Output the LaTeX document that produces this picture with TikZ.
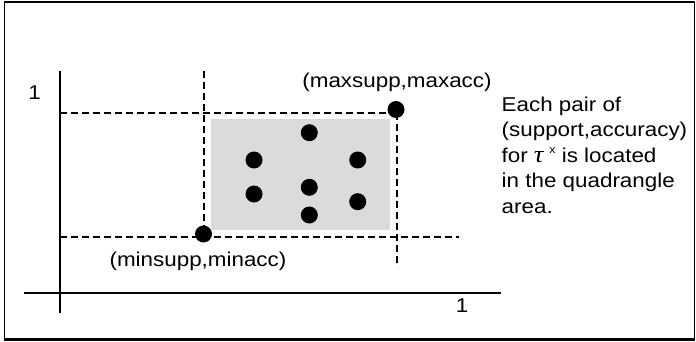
\documentclass[tikz,border=0pt]{standalone}
\usepackage{fontspec}
\setmainfont{Liberation Sans}[FakeStretch=1.12]
\newfontfamily\greekfont{Liberation Serif}[FakeStretch=1.12]
\begin{document}
\begin{tikzpicture}[x=1pt,y=-1pt,
  outline/.style={draw=black,line width=1.6pt},
  quad/.style={fill=black!14},
  axisline/.style={draw=black,line width=2.6pt},
  guide/.style={draw=black,line width=1.2pt,dash pattern=on 7pt off 4pt},
  dot/.style={circle,fill=black,inner sep=0pt,minimum size=17pt},
  lbl/.style={font=\fontsize{20}{25.6}\selectfont,inner sep=0pt,text=black}]
\useasboundingbox (0,0) rectangle (696,342);
\draw[outline] (4.5,2) rectangle (694.5,340);
\draw[draw=black,line width=2.4pt] (4.5,2) -- (694.5,2);
\draw[draw=black,line width=2.4pt] (4.5,339.5) -- (694.5,339.5);
\fill[quad] (211,119) rectangle (390,229.5);
% coordinates
\coordinate (ytop) at (60,71);
\coordinate (ybot) at (60,313);
\coordinate (xl) at (24,293);
\coordinate (xr) at (501,293);
\coordinate (hl1) at (60,113);
\coordinate (hr1) at (397,113);
\coordinate (hl2) at (60,237);
\coordinate (hr2) at (459,237);
\coordinate (vt1) at (204,71);
\coordinate (vb1) at (204,237);
\coordinate (vb2) at (397,267);
% guides
\draw[guide] (hl1) -- (hr1);
\draw[guide] (hl2) -- (hr2);
\draw[guide] (vt1) -- (vb1);
\draw[guide] (hr1) -- (vb2);
% axes
\draw[axisline] (ytop) -- (ybot);
\draw[axisline] (xl) -- (xr);
% dots
\node[dot] (pmax) at (396,109.5) {};
\node[dot] (pmin) at (203.5,234) {};
\node[dot] (p1) at (309.3,132.7) {};
\node[dot] (p2) at (254,160) {};
\node[dot] (p3) at (357.7,160) {};
\node[dot] (p4) at (254,194) {};
\node[dot] (p5) at (309.3,187.3) {};
\node[dot] (p6) at (357.7,201.7) {};
\node[dot] (p7) at (309.3,215) {};
% labels
\node[lbl,anchor=base] (lmax) at (397,88) {(maxsupp,maxacc)};
\node[lbl,anchor=base] (lmin) at (198,266.5) {(minsupp,minacc)};
\node[lbl,anchor=base] (ly) at (34.5,100) {1};
\node[lbl,anchor=base] (lx) at (462,312) {1};
\node[lbl,anchor=north west,align=left] (note) at (501.5,96.5) {Each pair of\\(support,accuracy)\\for\hspace{6pt}{\greekfont\itshape\fontsize{24}{24}\selectfont τ}\hspace{6pt}\raisebox{8.5pt}{\fontsize{11}{11}\selectfont x} is located\\in the quadrangle\\area.};
\end{tikzpicture}
\end{document}
